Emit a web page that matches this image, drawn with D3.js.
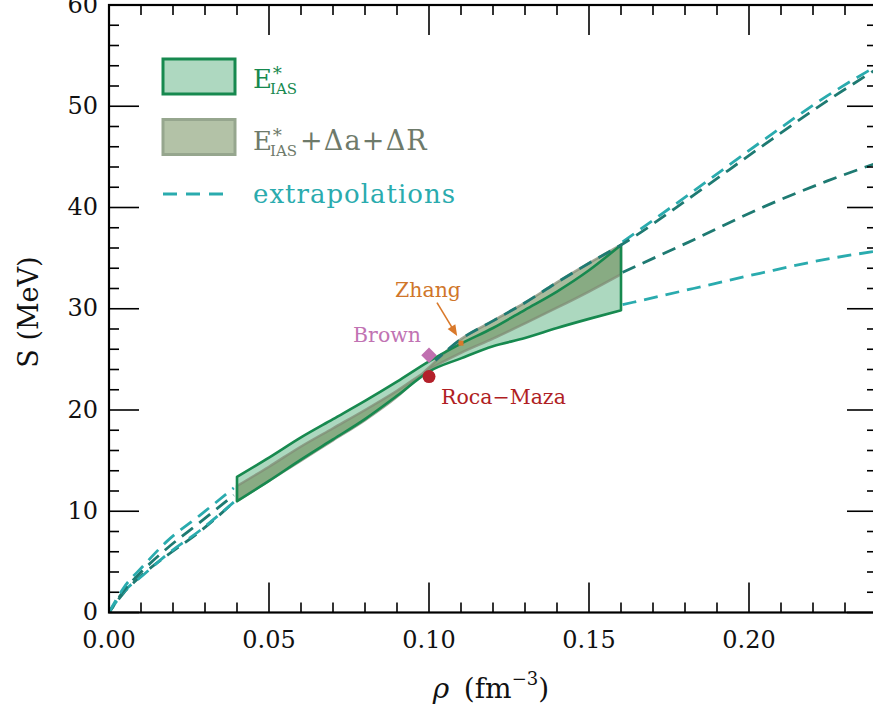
<!DOCTYPE html>
<html><head><meta charset="utf-8">
<script src="https://cdn.jsdelivr.net/npm/d3@7"></script>
<style>body{margin:0;background:#fff} svg{display:block} text{font-family:"DejaVu Serif",serif}</style>
</head><body><svg id="c" width="873" height="715"></svg>
<script>
// ---- data ----
const bandRho  = [0.04,0.05,0.06,0.07,0.08,0.09,0.10,0.11,0.12,0.13,0.14,0.15,0.16];
const eiasHigh = [13.4,15.3,17.3,19.1,20.9,22.8,24.8,26.55,28.1,29.9,31.7,33.8,36.3];
const eiasLow  = [11.0,13.0,15.1,17.1,19.1,21.4,23.8,25.1,26.3,27.1,28.1,29.0,29.85];
const corrA    = [12.5,14.4,16.4,18.2,20.0,21.9,24.0,25.65,27.05,28.55,30.1,31.7,33.4];
const corrB    = [11.0,13.0,15.0,17.0,19.0,21.3,24.2,27.0,28.8,30.6,32.6,34.5,36.3];

const extLowRho        = [0,0.0045,0.0107,0.018,0.0284,0.039];
const extLowTealUpper  = [0,2.4,4.6,7.0,9.6,12.3];
const extLowDarkMid    = [0,2.1,4.2,6.3,8.9,11.6];
const extLowTealLower  = [0,2.0,3.7,5.7,8.1,10.9];
const extLowDarkLower  = [0,1.9,3.8,5.6,8.0,10.9];

const extHighRho       = [0.1605,0.1826,0.2034,0.2243,0.24];
const extHighTealUpper = [36.6,41.6,46.4,51.0,54.0];
const extHighDarkMid   = [33.6,36.8,39.9,42.6,44.4];
const extHighTealLower = [30.4,32.0,33.5,34.9,35.7];

const darkTopRho = [0.102,0.11,0.12,0.13,0.14,0.15,0.16,0.1826,0.2034,0.2243,0.24];
const darkTopS   = [24.9,27.0,28.8,30.6,32.6,34.5,36.3,41.2,45.9,50.5,53.7];

const brown   = {rho:0.10, S:25.4};
const rocaMaza= {rho:0.10, S:23.3};
const zhang   = {rho:0.11, S:26.6};
const zhangArrowFrom = {rho:0.1025, S:30.6};
const zhangArrowTo   = {rho:0.1088, S:27.3};

const xMajor = [0,0.05,0.10,0.15,0.20];
const xMajorLabels = ["0.00","0.05","0.10","0.15","0.20"];
const yMajor = [0,10,20,30,40,50,60];

// ---- layout ----
const L=109, R=877, T=5, B=612.5;
const x = d3.scaleLinear().domain([0,0.24]).range([L,R]);
const y = d3.scaleLinear().domain([0,60]).range([B,T]);
const svg = d3.select("#c");

const GREEN="#17894f", TEAL="#2aabae", DTEAL="#1e7a72";

svg.append("defs").append("clipPath").attr("id","clip")
  .append("rect").attr("x",L).attr("y",T).attr("width",R-L).attr("height",B-T);
const plot = svg.append("g").attr("clip-path","url(#clip)");

const idx = d3.range(bandRho.length);
const cm = d3.curveMonotoneX;

// light band fill
const areaLight = d3.area().x(i=>x(bandRho[i])).y0(i=>y(eiasLow[i])).y1(i=>y(eiasHigh[i])).curve(cm);
plot.append("path").attr("d",areaLight(idx)).attr("fill","#acd8bf");
// dark band
const areaDark = d3.area().x(i=>x(bandRho[i])).y0(i=>y(corrA[i])).y1(i=>y(corrB[i])).curve(cm);
plot.append("path").attr("d",areaDark(idx)).attr("fill","rgba(112,142,92,0.6)")
  .attr("stroke","rgba(128,140,118,0.75)").attr("stroke-width",2.5).attr("stroke-linejoin","round");
// light band outline
plot.append("path").attr("d",areaLight(idx)).attr("fill","none")
  .attr("stroke",GREEN).attr("stroke-width",2.6).attr("stroke-linejoin","round");

// extrapolations
function dashed(rhos, vals, color, off){
  const ln = d3.line().x((d,i)=>x(rhos[i])).y(d=>y(d)).curve(d3.curveMonotoneX);
  plot.append("path").attr("d",ln(vals)).attr("fill","none").attr("stroke",color)
    .attr("stroke-width",2.8).attr("stroke-dasharray","14,8").attr("stroke-dashoffset",off||0);
}
dashed(extLowRho, extLowDarkLower, DTEAL, 6);
dashed(extLowRho, extLowTealLower, TEAL);
dashed(extLowRho, extLowDarkMid, DTEAL, 4);
dashed(extLowRho, extLowTealUpper, TEAL);
dashed(extHighRho, extHighTealLower, TEAL);
dashed(extHighRho, extHighDarkMid, DTEAL);
dashed(extHighRho, extHighTealUpper, TEAL);
dashed(darkTopRho, darkTopS, DTEAL, 5);

// points
const pBrown = [x(brown.rho), y(brown.S)];
svg.append("rect").attr("x",pBrown[0]-5.5).attr("y",pBrown[1]-5.5).attr("width",11).attr("height",11)
  .attr("fill","#c070b0").attr("transform",`rotate(45,${pBrown[0]},${pBrown[1]})`);
svg.append("circle").attr("cx",x(rocaMaza.rho)).attr("cy",y(rocaMaza.S)).attr("r",6.5).attr("fill","#b3202a");
svg.append("rect").attr("x",x(zhang.rho)-2.5).attr("y",y(zhang.S)-2.5).attr("width",5).attr("height",5).attr("fill","#d9792b");
// arrow
const ax0=x(zhangArrowFrom.rho), ay0=y(zhangArrowFrom.S), ax1=x(zhangArrowTo.rho), ay1=y(zhangArrowTo.S);
const ang=Math.atan2(ay1-ay0, ax1-ax0);
svg.append("line").attr("x1",ax0).attr("y1",ay0).attr("x2",ax1-6*Math.cos(ang)).attr("y2",ay1-6*Math.sin(ang))
  .attr("stroke","#d9792b").attr("stroke-width",1.6);
const ah = [[ax1,ay1],[ax1-11*Math.cos(ang)+4.5*Math.sin(ang), ay1-11*Math.sin(ang)-4.5*Math.cos(ang)],
            [ax1-11*Math.cos(ang)-4.5*Math.sin(ang), ay1-11*Math.sin(ang)+4.5*Math.cos(ang)]];
svg.append("path").attr("d","M"+ah.join("L")+"Z").attr("fill","#d9792b");

svg.append("text").attr("x",pBrown[0]-8).attr("y",pBrown[1]-13).attr("text-anchor","end")
  .attr("font-size",20.5).attr("fill","#c173b3").text("Brown");
svg.append("text").attr("x",x(rocaMaza.rho)+12).attr("y",y(rocaMaza.S)+27)
  .attr("font-size",20.5).attr("fill","#b01e23").text("Roca\u2212Maza");
svg.append("text").attr("x",395).attr("y",297)
  .attr("font-size",20.5).attr("fill","#d0762a").text("Zhang");

// frame
const ax = svg.append("g").attr("stroke","#000").attr("stroke-width",1.6);
const xMinor = d3.range(0,0.2401,0.01).map(v=>+v.toFixed(3));
const yMinor = d3.range(0,60.1,2);
xMinor.forEach(v=>{
  const len = xMajor.some(m=>Math.abs(m-v)<1e-6)?30:10;
  ax.append("line").attr("x1",x(v)).attr("x2",x(v)).attr("y1",B).attr("y2",B-len);
  ax.append("line").attr("x1",x(v)).attr("x2",x(v)).attr("y1",T).attr("y2",T+len);
});
yMinor.forEach(v=>{
  const len = yMajor.includes(v)?30:10;
  ax.append("line").attr("x1",L).attr("x2",L+len).attr("y1",y(v)).attr("y2",y(v));
  ax.append("line").attr("x1",R).attr("x2",R-len).attr("y1",y(v)).attr("y2",y(v));
});
svg.append("rect").attr("x",L).attr("y",T).attr("width",R-L).attr("height",B-T)
  .attr("fill","none").attr("stroke","#000").attr("stroke-width",2.2);

// tick labels
xMajor.forEach((v,i)=>{
  svg.append("text").attr("x",x(v)).attr("y",648).attr("text-anchor","middle")
    .attr("font-size",24).attr("fill","#111").text(xMajorLabels[i]);
});
yMajor.forEach(v=>{
  svg.append("text").attr("x",98).attr("y",y(v)+7.5).attr("text-anchor","end")
    .attr("font-size",24).attr("fill","#111").text(v);
});

// axis titles
const xt = svg.append("text").attr("x",491).attr("y",698).attr("text-anchor","middle").attr("font-size",28).attr("fill","#111");
xt.append("tspan").attr("font-style","italic").text("ρ");
xt.append("tspan").text("\u2009 (fm");
xt.append("tspan").attr("font-size",18).attr("dy",-13).text("\u22123");
xt.append("tspan").attr("dy",13).text(")");
svg.append("text").attr("transform","translate(38,312) rotate(-90)").attr("text-anchor","middle")
  .attr("font-size",27).attr("fill","#111").text("S (MeV)");

// legend
svg.append("rect").attr("x",163).attr("y",59).attr("width",72).attr("height",35)
  .attr("fill","#aed8c0").attr("stroke",GREEN).attr("stroke-width",3);
svg.append("rect").attr("x",163).attr("y",119.5).attr("width",72).attr("height",35)
  .attr("fill","#b3c2a7").attr("stroke","#96a68e").attr("stroke-width",3);
svg.append("line").attr("x1",163).attr("x2",230).attr("y1",194).attr("y2",194)
  .attr("stroke",TEAL).attr("stroke-width",3).attr("stroke-dasharray","14,9");

function eias(g, yb, color){
  g.append("text").attr("x",253).attr("y",yb).attr("font-size",26).attr("fill",color).text("E");
  g.append("text").attr("x",271).attr("y",yb-12).attr("font-size",18).attr("fill",color).text("\u2217");
  g.append("text").attr("x",270).attr("y",yb+6).attr("font-size",15).attr("fill",color).text("IAS");
}
eias(svg, 88, GREEN);
eias(svg, 150, "#6e7a6a");
svg.append("text").attr("x",300).attr("y",150).attr("font-size",27).attr("letter-spacing",1.2).attr("fill","#6e7a6a").text("+Δa+ΔR");
svg.append("text").attr("x",253).attr("y",203).attr("font-size",26).attr("letter-spacing",1).attr("fill",TEAL).text("extrapolations");
</script></body></html>
